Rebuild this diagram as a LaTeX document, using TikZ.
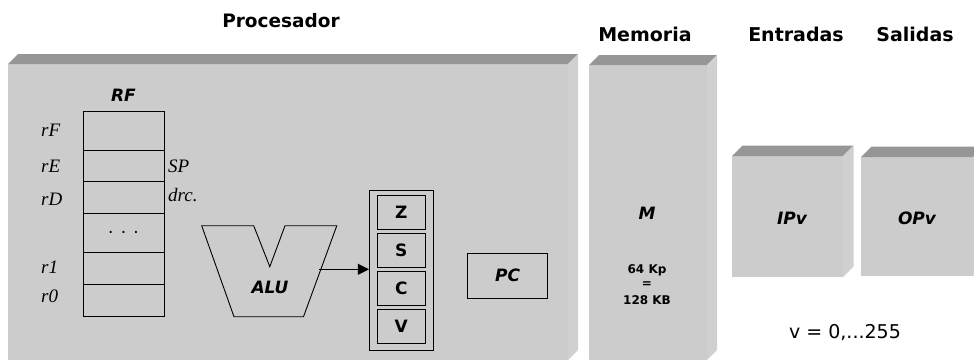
\documentclass[tikz,border=0pt]{standalone}
\usepackage{fontspec}
\setmainfont{DejaVu Sans}
\newfontfamily\timesfam{Liberation Serif}
\usetikzlibrary{arrows.meta}
\definecolor{frontc}{HTML}{CCCCCC}
\definecolor{topc}{HTML}{969696}
\definecolor{sidec}{HTML}{D0D0D0}
\tikzset{
  title/.style={font=\fontsize{19}{21}\selectfont\bfseries, inner sep=0pt},
  lab/.style={font=\fontsize{17}{19}\selectfont\bfseries\itshape, inner sep=0pt},
  smalltxt/.style={font=\fontsize{12}{14}\selectfont\bfseries, inner sep=0pt},
  reglab/.style={font=\fontsize{19}{21}\selectfont\timesfam\itshape, inner sep=0pt, anchor=west},
  regrow/.style={draw=black, line width=0.9pt, minimum width=81pt, inner sep=0pt},
  flagbox/.style={draw=black, line width=0.9pt, minimum width=48.6pt, minimum height=34.4pt, inner sep=0pt, font=\fontsize{17}{19}\selectfont\bfseries},
  blk/.style={draw=black, line width=0.9pt},
}
\newcommand{\drawboxthreed}[5]{%
  \fill[frontc] (#1,#2) rectangle (#3,#4);
  \fill[topc] (#1,#2) -- ({#1+#5},{#2-#5}) -- ({#3+#5},{#2-#5}) -- (#3,#2) -- cycle;
  \fill[sidec] (#3,#2) -- ({#3+#5},{#2-#5}) -- ({#3+#5},{#4-#5}) -- (#3,#4) -- cycle;
}
\begin{document}
\begin{tikzpicture}[x=1pt,y=-1pt]
\useasboundingbox (0,0) rectangle (974,360);
\clip (0,0) rectangle (974,360);
% 3D boxes
\drawboxthreed{8}{64}{568}{360}{10}
\drawboxthreed{589}{65}{707}{360}{10}
\drawboxthreed{732}{156}{843}{277}{10.5}
\drawboxthreed{861}{157}{973}{276}{10.5}
% titles
\node[title, font=\fontsize{18.5}{21}\selectfont\bfseries] (tproc) at (281,21) {Procesador};
\node[title] (tmem) at (645,34.5) {Memoria};
\node[title] (tin) at (796,34.5) {Entradas};
\node[title] (tout) at (915,34.5) {Salidas};
% register file
\node[lab] (rf) at (123.5,95) {RF};
\node[regrow, minimum height=38.3pt] (rowF) at (123.5,130.85) {};
\node[regrow, minimum height=31pt] (rowE) at (123.5,165.5) {};
\node[regrow, minimum height=32pt] (rowD) at (123.5,197) {};
\node[regrow, minimum height=39.7pt, font=\fontsize{17}{19}\selectfont] (rowdots) at (123.5,232.85) {. . .};
\node[regrow, minimum height=31.3pt] (rowone) at (123.5,268.35) {};
\node[regrow, minimum height=32pt] (rowzero) at (123.5,300) {};
\node[reglab] (lF) at (41,130.7) {rF};
\node[reglab] (lE) at (41,166) {rE};
\node[reglab] (lD) at (41,199) {rD};
\node[reglab] (lone) at (41,267.7) {r1};
\node[reglab] (lzero) at (41,296.7) {r0};
\node[reglab] (sp) at (168,166) {SP};
\node[reglab] (drc) at (168,195) {drc.};
% ALU
\coordinate (aTL) at (201.7,225.7);
\coordinate (aN1) at (253.7,225.7);
\coordinate (aNB) at (269.8,266.7);
\coordinate (aN2) at (285,225.7);
\coordinate (aTR) at (336.8,225.7);
\coordinate (aBR) at (303.5,316.7);
\coordinate (aBL) at (234,316.7);
\draw[blk, line join=miter] (aN1) -- (aTL) -- (aBL) -- (aBR) -- (aTR) -- (aN2) -- (aNB) -- cycle;
\node[lab] (alu) at (270,287) {ALU};
% flags
\node[draw=black, line width=0.9pt, minimum width=64.3pt, minimum height=160.7pt, inner sep=0pt] (flags) at (401.5,270.35) {};
\node[flagbox] (fz) at (401.3,212.5) {Z};
\node[flagbox] (fs) at (401.3,250.5) {S};
\node[flagbox] (fc) at (401.3,288.3) {C};
\node[flagbox] (fv) at (401.3,326.2) {V};
\coordinate (aluout) at (318.8,269.3);
\draw[blk, -{Triangle[length=11pt,width=11pt]}] (aluout) -- (aluout -| flags.west);
% PC
\node[draw=black, line width=0.9pt, minimum width=79.6pt, minimum height=45pt, inner sep=0pt, lab] (pc) at (507.5,275.8) {PC};
% memory
\node[lab] (m) at (647,213) {M};
\node[smalltxt] (kp) at (647,270) {64 Kp};
\node[smalltxt] (eq) at (647,284.5) {=};
\node[smalltxt] (kb) at (647,300) {128 KB};
% io
\node[lab] (ipv) at (792,218) {IPv};
\node[lab] (opv) at (917,218) {OPv};
\node[font=\fontsize{19}{21}\selectfont, inner sep=0pt] (vrange) at (845,333) {v = 0,...255};
\end{tikzpicture}
\end{document}
